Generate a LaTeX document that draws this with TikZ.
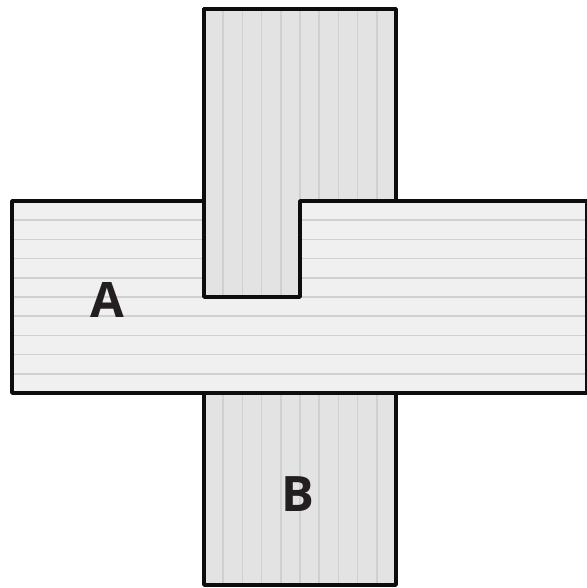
\documentclass[tikz,border=0pt]{standalone}
\usepackage{fontspec}
\newfontfamily\labelfont{Open Sans}
\usepackage{tikz}
\usetikzlibrary{positioning}

\definecolor{fillA}{HTML}{F0F0F0}
\definecolor{fillB}{HTML}{E3E3E3}
\definecolor{hatch}{HTML}{D0D0D0}
\definecolor{ink}{HTML}{231F20}

\begin{document}
\begin{tikzpicture}[
    x=0.02cm, y=-0.02cm,
    outline/.style={draw=black!95, line width=0.07cm, line join=round},
    hatchline/.style={draw=hatch, line width=0.03cm},
    letter/.style={font=\labelfont\bfseries\fontsize{27.8}{30}\selectfont, text=ink, inner sep=0pt}
]
\useasboundingbox (0,0) rectangle (587,588);
\clip (0,0) rectangle (587,588);

% Strip B - full length, lower part stays visible
\fill[fillB] (204,9) rectangle (396,585);
\foreach \k in {1,...,9}
    \draw[hatchline] (204+19.2*\k,9) -- (204+19.2*\k,585);
\draw[outline] (204,9) rectangle (396,585);

% Strip A - horizontal, lies over B at the bottom
\fill[fillA] (12,201) rectangle (587,393);
\foreach \k in {1,...,9}
    \draw[hatchline] (12,201+19.2*\k) -- (587,201+19.2*\k);
\draw[outline] (12,201) rectangle (587,393);

% Upper part of B - over A, with the notch
\begin{scope}
    \clip (204,9) -- (396,9) -- (396,201) -- (300,201) -- (300,297) -- (204,297) -- cycle;
    \fill[fillB] (204,9) rectangle (396,297);
    \foreach \k in {1,...,9}
        \draw[hatchline] (204+19.2*\k,9) -- (204+19.2*\k,297);
\end{scope}
\draw[outline] (204,9) -- (396,9) -- (396,201) -- (300,201) -- (300,297) -- (204,297) -- cycle;

% Labels
\node[letter] (labelA) at (107,300) {A};
\node[letter] (labelB) at (298,494) {B};

\end{tikzpicture}
\end{document}
